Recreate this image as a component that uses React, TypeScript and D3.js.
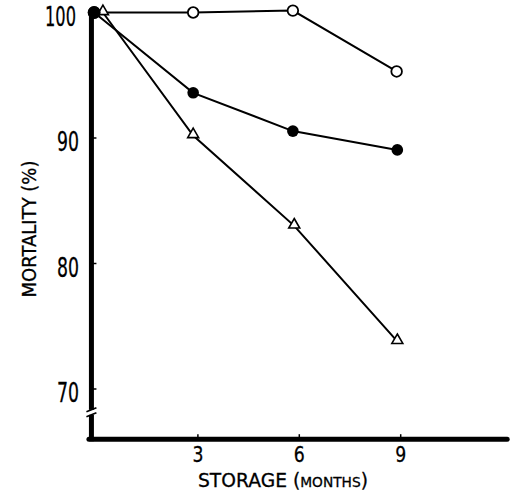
import React from "react";
import * as d3 from "d3";

const months = [3, 6, 9];
const yTicks = [100, 90, 80, 70];

const openX = [-0.07, 2.86, 5.81, 8.88];
const openY = [100, 100.0, 100.15, 95.3];

const filledX = [-0.07, 2.86, 5.81, 8.9];
const filledY = [100, 93.6, 90.55, 89.05];

const triX = [0.19, 2.86, 5.85, 8.9];
const triY = [100, 90.2, 83.0, 73.8];

const W = 517;
const H = 503;

export default function App() {
  const x = d3.scaleLinear().domain([0, 9]).range([96.5, 400.7]);
  const y = d3.scaleLinear().domain([70, 100]).range([389, 12.5]);

  const line = d3
    .line<[number, number]>()
    .x((d) => x(d[0]))
    .y((d) => y(d[1]));

  const zip = (xs: number[], ys: number[]) =>
    xs.map((v, i) => [v, ys[i]] as [number, number]);

  const openPts = zip(openX, openY);
  const filledPts = zip(filledX, filledY);
  const triPts = zip(triX, triY);

  const axisX = x(-0.15);
  const axisBottom = y(66);
  const axisRight = x(12.15);
  const breakY = y(68.1);

  const tri = d3.symbol().type(d3.symbolTriangle).size(52)();

  const font = "'DejaVu Sans', sans-serif";

  return (
    <svg
      width={W}
      height={H}
      style={{ position: "absolute", left: 0, top: 0, background: "#fff" }}
    >
      <rect x={0} y={0} width={W} height={H} fill="#fff" />
      {/* axes */}
      <line x1={axisX} y1={y(100.2)} x2={axisX} y2={axisBottom + 2} stroke="#000" strokeWidth={5} />
      <line x1={axisX - 2.5} y1={axisBottom} x2={axisRight} y2={axisBottom} stroke="#000" strokeWidth={5} strokeLinecap="round" />
      {/* axis break */}
      <rect x={axisX - 4} y={breakY - 3} width={8} height={5} fill="#fff" />
      <line x1={axisX - 5} y1={breakY - 1} x2={axisX + 5} y2={breakY - 5} stroke="#000" strokeWidth={1.6} />
      <line x1={axisX - 5} y1={breakY + 4} x2={axisX + 5} y2={breakY} stroke="#000" strokeWidth={1.6} />
      {/* y ticks */}
      {yTicks.map((t) => (
        <g key={"yt" + t}>
          <line x1={axisX} x2={axisX + 5} y1={y(t)} y2={y(t)} stroke="#000" strokeWidth={1.5} />
          <text
            x={t === 100 ? 76 : 79}
            y={y(t) + 13}
            textAnchor="end"
            fontFamily={font}
            fontSize={26}
            textLength={t === 100 ? 31 : 22}
            lengthAdjust="spacingAndGlyphs"
            fill="#000"
            stroke="#000"
            strokeWidth={0.3}
          >
            {t}
          </text>
        </g>
      ))}
      {/* x ticks */}
      {months.map((m) => (
        <g key={"xt" + m}>
          <line x1={x(m)} x2={x(m)} y1={axisBottom} y2={axisBottom - 5} stroke="#000" strokeWidth={1.5} />
          <text
            x={x(m)}
            y={axisBottom + 23}
            textAnchor="middle"
            fontFamily={font}
            fontSize={22}
            textLength={11}
            lengthAdjust="spacingAndGlyphs"
            fill="#000"
            stroke="#000"
            strokeWidth={0.3}
          >
            {m}
          </text>
        </g>
      ))}
      {/* axis titles */}
      <text
        transform="translate(36,229) rotate(-90)"
        textAnchor="middle"
        fontFamily={font}
        fontSize={19}
        textLength={137}
        lengthAdjust="spacingAndGlyphs"
        fill="#000"
        stroke="#000"
        strokeWidth={0.3}
      >
        MORTALITY (%)
      </text>
      <text
        x={198}
        y={487}
        fontFamily={font}
        fontSize={19}
        textLength={170}
        lengthAdjust="spacingAndGlyphs"
        fill="#000"
        stroke="#000"
        strokeWidth={0.3}
      >
        STORAGE (<tspan fontSize={14}>MONTHS</tspan>)
      </text>
      {/* series lines */}
      <path d={line(openPts) || ""} fill="none" stroke="#000" strokeWidth={2} />
      <path d={line(triPts) || ""} fill="none" stroke="#000" strokeWidth={2} />
      <path d={line(filledPts) || ""} fill="none" stroke="#000" strokeWidth={2} />
      {/* markers */}
      {openPts.map((p, i) => (
        <circle key={"o" + i} cx={x(p[0])} cy={y(p[1])} r={5.3} fill="#fff" stroke="#000" strokeWidth={1.8} />
      ))}
      {triPts.map((p, i) => (
        <path
          key={"t" + i}
          d={tri || ""}
          transform={`translate(${x(p[0])},${y(p[1]) - 1})`}
          fill="#fff"
          stroke="#000"
          strokeWidth={1.6}
        />
      ))}
      {filledPts.map((p, i) => (
        <circle key={"f" + i} cx={x(p[0])} cy={y(p[1])} r={i === 0 ? 6.5 : 5.8} fill="#000" />
      ))}
    </svg>
  );
}
